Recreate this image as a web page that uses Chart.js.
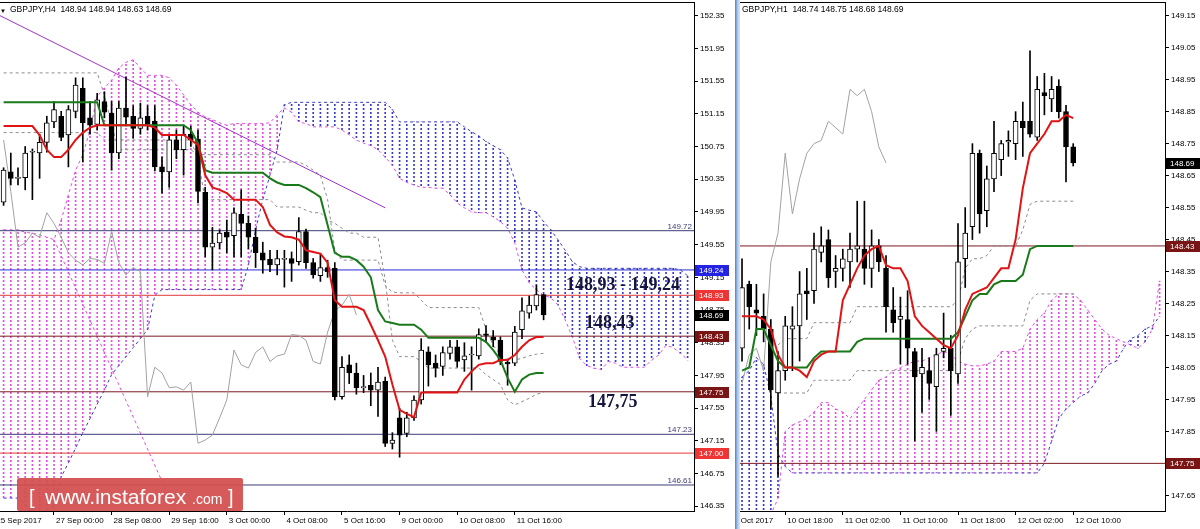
<!DOCTYPE html>
<html lang="en">
<head>
  <meta charset="UTF-8" />
  <title>GBPJPY H4 / H1 – Ichimoku levels</title>
  <script src="https://cdn.jsdelivr.net/npm/chart.js"></script>
  <style>
    body { margin: 0; width: 1200px; height: 529px; position: relative; overflow: hidden; background: #fff;
           font-family: "Liberation Sans", Arial, sans-serif; }
    canvas { position: absolute; top: 0; }
    #h4 { left: 0; }
    #h1 { left: 740px; }
    #split { position: absolute; left: 735px; top: 0; width: 5px; height: 529px;
             background: linear-gradient(to right, #4f7fc0, #a9c6ea 50%, #dce8f6); }
    .hdr { position: absolute; top: 4px; font-size: 8.5px; line-height: 10px; white-space: nowrap; color: #000; }
    .note { position: absolute; font: bold 18px/18px "Liberation Serif", "Times New Roman", serif; color: #15153d; white-space: nowrap; }
    #logo { position: absolute; left: 17px; top: 478px; width: 226px; height: 33px; background: rgba(212, 78, 78, 0.93);
            border-radius: 2px; color: #fff; white-space: nowrap; }
    #logo span { position: absolute; line-height: 24px; }
  </style>
</head>
<body>
  <canvas id="h4" width="736" height="529"></canvas>
  <div id="split"></div>
  <canvas id="h1" width="460" height="529"></canvas>

  <!-- headers -->
  <div class="hdr" style="left:0;top:6px;font-size:6px">▼</div>
  <div class="hdr" style="left:10px">GBPJPY,H4&nbsp; 148.94 148.94 148.63 148.69</div>
  <div class="hdr" style="left:742px">GBPJPY,H1&nbsp; 148.74 148.75 148.68 148.69</div>

  <!-- level notes -->
  <div class="note" style="left:566px;top:275px">148,93 - 149,24</div>
  <div class="note" style="left:585px;top:313px">148,43</div>
  <div class="note" style="left:588px;top:392px">147,75</div>

  <div id="logo">
    <span style="left:12px;top:7px;font-size:20px">[</span>
    <span style="left:28px;top:7px;font-size:21px">www.instaforex</span>
    <span style="left:175px;top:9px;font-size:14px">.com</span>
    <span style="left:211px;top:7px;font-size:20px">]</span>
  </div>

  <script>
    // ---------- H4 (left) ----------
    const h4Open = [150.07,150.44,150.36,150.37,150.68,150.67,150.80,151.05,151.12,150.89,
      151.18,151.46,151.10,151.02,151.30,151.16,150.67,151.22,151.12,150.97,
      151.12,151.06,150.50,150.44,150.83,150.71,150.90,150.84,150.19,149.52,
      149.57,149.70,149.66,149.92,149.81,149.64,149.45,149.37,149.30,149.37,
      149.38,149.34,149.71,149.33,149.17,149.27,149.26,147.69,148.08,147.98,
      147.80,147.83,147.77,147.88,147.12,147.43,147.24,147.43,147.65,148.24,
      148.10,148.06,148.22,148.30,148.14,148.20,148.19,148.46,148.42,148.38,
      148.11,148.10,148.51,148.71,148.80,148.94];
    const h4High = [150.49,150.67,150.49,150.75,150.72,150.90,151.12,151.30,151.18,151.25,
      151.59,151.59,151.30,151.40,151.42,151.30,151.30,151.60,151.25,151.28,
      151.25,151.25,150.62,150.90,150.95,151.00,151.00,150.95,150.25,149.76,
      149.73,149.85,150.00,150.22,149.90,149.75,149.58,149.48,149.48,149.48,
      149.46,149.88,149.74,149.38,149.44,149.36,149.33,148.18,148.20,148.10,
      147.95,147.98,148.05,147.93,147.25,147.55,147.50,147.70,148.40,148.30,
      148.20,148.30,148.38,148.38,148.35,148.30,148.52,148.56,148.50,148.42,
      148.15,148.55,148.90,148.92,149.05,148.94];
    const h4Low = [150.03,150.28,150.28,150.22,150.10,150.36,150.68,150.98,150.82,150.50,
      151.10,150.56,150.90,150.95,151.10,150.46,150.60,151.00,150.85,150.90,
      150.95,150.45,150.18,150.25,150.60,150.40,150.75,150.06,149.40,149.24,
      149.50,149.45,149.40,149.40,149.50,149.27,149.20,149.22,149.18,149.03,
      149.10,149.30,149.26,149.14,149.10,149.15,147.65,147.66,147.85,147.72,
      147.74,147.58,147.45,147.08,147.05,146.95,147.20,147.40,147.60,147.82,
      147.93,147.95,148.15,148.05,148.00,147.77,148.15,148.35,148.30,148.08,
      147.83,148.07,148.40,148.65,148.75,148.63];
    const h4Close = [150.46,150.36,150.37,150.67,150.69,150.80,151.04,151.20,150.86,151.20,
      151.50,151.04,151.01,151.32,151.17,150.67,151.22,151.11,150.97,151.10,
      151.02,150.50,150.44,150.83,150.71,150.90,150.83,150.20,149.52,149.57,
      149.69,149.64,149.94,149.81,149.64,149.45,149.36,149.30,149.38,149.37,
      149.32,149.71,149.33,149.18,149.27,149.22,147.69,148.05,147.98,147.80,
      147.81,147.77,147.87,147.12,147.16,147.22,147.43,147.65,148.26,148.08,
      148.04,148.23,148.30,148.12,148.19,148.21,148.45,148.44,148.38,148.12,
      148.09,148.48,148.74,148.81,148.94,148.69];
    const h4Tenkan = [151.00,151.00,151.00,151.00,151.00,150.89,150.71,150.62,150.62,150.71,
      150.83,150.92,150.98,151.01,151.01,151.01,151.01,151.01,151.01,151.01,
      151.01,150.98,150.89,150.89,150.89,150.89,150.83,150.77,150.40,150.25,
      150.22,150.18,150.10,150.10,150.10,150.10,150.01,149.79,149.70,149.65,
      149.64,149.61,149.48,149.46,149.44,149.33,148.87,148.79,148.79,148.79,
      148.75,148.57,148.38,148.18,147.84,147.53,147.48,147.44,147.74,147.74,
      147.74,147.74,147.74,147.74,147.90,148.00,148.08,148.10,148.10,148.14,
      148.14,148.20,148.30,148.38,148.42,148.42];
    const h4Kijun = [151.29,151.29,151.29,151.29,151.29,151.29,151.29,151.29,151.29,151.29,
      151.29,151.29,151.29,151.29,151.01,151.01,151.01,151.01,151.01,151.01,
      151.01,151.01,151.01,151.01,151.01,151.01,150.95,150.79,150.46,150.43,
      150.43,150.43,150.43,150.43,150.43,150.43,150.43,150.36,150.31,150.28,
      150.28,150.28,150.24,150.19,150.13,149.79,149.45,149.40,149.40,149.36,
      149.28,149.15,148.75,148.61,148.59,148.57,148.57,148.57,148.51,148.41,
      148.41,148.41,148.41,148.41,148.41,148.41,148.41,148.36,148.26,148.14,
      147.92,147.75,147.90,147.96,147.98,147.98];
    const h4Chikou = [150.83,150.20,149.52,149.57,149.69,149.64,149.94,149.81,149.64,149.45,
      149.36,149.30,149.38,149.37,149.32,149.71,149.33,149.18,149.27,149.22,
      147.69,148.05,147.98,147.80,147.81,147.77,147.87,147.12,147.16,147.22,
      147.43,147.65,148.26,148.08,148.04,148.23,148.30,148.12,148.19,148.21,
      148.45,148.44,148.38,148.12,148.09,148.48,148.74,148.81,148.94,148.69];
    const h4SlowUpper = [151.65,151.65,151.65,151.65,151.65,151.65,151.65,151.65,151.65,151.65,
      151.65,151.65,151.65,151.65,151.38,151.01,150.71,150.71,150.71,150.71,
      150.71,150.71,150.71,150.71,150.71,150.71,150.71,150.65,150.65,150.65,
      150.65,150.65,150.65,150.65,150.65,150.65,150.65,150.65,150.56,150.56,
      150.56,150.56,150.52,150.46,150.40,150.10,149.48,149.36,149.36,149.36,
      149.36,149.36,149.36,149.05,148.97,148.96,148.96,148.96,148.87,148.78,
      148.78,148.78,148.78,148.78,148.78,148.78,148.78,148.51,148.32,148.20,
      148.14,148.14,148.16,148.19,148.21,148.22];
    const h4SlowLower = [150.92,150.92,150.92,150.92,150.92,150.92,150.92,150.92,150.92,150.92,
      150.92,150.92,150.92,150.92,150.83,150.83,150.83,150.83,150.83,150.83,
      150.83,150.83,150.83,150.83,150.83,150.83,150.83,150.59,150.10,150.10,
      150.10,150.10,150.10,150.10,150.10,150.10,150.10,150.10,150.01,150.01,
      150.01,150.01,149.97,149.94,149.94,149.85,149.81,149.75,149.69,149.69,
      149.64,149.64,149.64,149.12,148.38,148.18,148.18,148.18,148.12,148.04,
      148.04,148.04,148.04,148.04,148.04,148.04,148.04,147.96,147.90,147.84,
      147.65,147.59,147.63,147.67,147.72,147.74];
    // leading spans, shifted forward (bars 0..95)
    const h4SpanA = [149.73,149.73,149.73,149.70,149.69,149.67,149.64,149.61,149.85,150.16,
      150.46,150.65,150.95,151.36,151.47,151.56,151.71,151.78,151.81,151.71,
      151.62,151.62,151.62,151.59,151.50,151.38,151.26,151.17,151.11,151.08,
      151.04,151.01,151.03,151.03,151.03,151.03,151.03,151.04,151.14,151.22,
      151.17,151.05,151.03,150.99,150.99,150.99,150.99,150.95,150.89,150.83,
      150.79,150.76,150.71,150.62,150.52,150.36,150.31,150.28,150.25,150.25,
      150.24,150.24,150.16,150.06,150.00,149.95,149.94,149.94,149.89,149.83,
      149.75,149.57,149.24,149.08,149.00,148.93,148.90,148.81,148.63,148.42,
      148.16,148.07,148.04,148.02,148.12,148.10,148.05,148.05,148.05,148.05,
      148.14,148.20,148.32,148.29,148.22,148.14];
    const h4SpanB = [146.45,146.45,146.45,146.37,146.24,146.18,146.18,146.37,146.71,146.88,
      147.06,147.25,147.42,147.60,147.77,147.96,148.07,148.18,148.29,148.40,
      148.51,148.93,149.00,149.00,149.00,149.00,149.00,149.00,149.00,149.00,
      149.00,149.00,149.00,149.00,149.30,149.73,150.10,150.40,150.71,151.26,
      151.29,151.29,151.29,151.29,151.29,151.29,151.29,151.29,151.29,151.29,
      151.29,151.29,151.29,151.29,151.20,151.05,151.05,151.05,151.05,151.05,
      151.05,151.05,151.05,151.05,150.99,150.93,150.88,150.81,150.76,150.71,
      150.61,150.34,150.00,149.97,149.95,149.83,149.73,149.61,149.48,149.34,
      149.28,149.26,149.26,149.26,149.26,149.26,149.26,149.26,149.26,149.26,
      149.26,149.26,149.26,149.26,149.24,149.17];
    const h4DiagX = [7, 24], h4DiagY = [149.61, 146.26];
    const h4TrendX = [-0.5, 53], h4TrendY = [152.35, 150.00];
    const h4Levels = [149.72, 149.24, 148.93, 148.43, 147.75, 147.23, 147.00, 146.61];
    const h4LevelColors = ['#3c3c78', '#2b2bd8', '#e03a3a', '#7d1a22', '#7d1a22', '#3c3c78', '#e03a3a', '#3c3c78'];
    const h4YTicks = [152.35, 151.95, 151.55, 151.15, 150.75, 150.35, 149.95, 149.55,
      149.15, 148.75, 148.35, 147.95, 147.55, 147.15, 146.75, 146.35];
    const h4TimeIdx = [-1.3, 7, 15, 23, 31, 39, 47, 55, 63, 71];
    const h4TimeLabels = ['25 Sep 2017', '27 Sep 00:00', '28 Sep 08:00', '29 Sep 16:00', '3 Oct 00:00',
      '4 Oct 08:00', '5 Oct 16:00', '9 Oct 00:00', '10 Oct 08:00', '11 Oct 16:00'];

    // ---------- H1 (right) ----------
    const h1Open = [148.11,148.31,148.23,148.21,148.17,147.97,148.04,148.17,148.18,148.29,
      148.29,148.41,148.45,148.35,148.36,148.38,148.42,148.42,148.36,148.43,
      148.36,148.23,148.20,148.20,148.10,148.03,148.04,147.99,148.10,148.11,
      148.03,148.39,148.49,148.72,148.54,148.64,148.70,148.755,148.75,148.82,
      148.82,148.77,148.91,148.89,148.93,148.85,148.74];
    const h1High = [148.39,148.32,148.31,148.28,148.20,148.10,148.21,148.24,148.35,148.36,
      148.47,148.49,148.48,148.40,148.42,148.47,148.57,148.57,148.48,148.45,
      148.40,148.30,148.27,148.29,148.11,148.11,148.08,148.11,148.22,148.15,
      148.50,148.55,148.75,148.73,148.68,148.82,148.76,148.79,148.85,148.88,
      149.04,148.96,148.97,148.96,148.95,148.87,148.75];
    const h1Low = [148.07,148.17,148.15,148.13,147.92,147.71,148.01,148.04,148.07,148.20,
      148.25,148.38,148.30,148.30,148.32,148.30,148.38,148.31,148.30,148.35,
      148.16,148.16,148.06,148.06,147.82,147.91,147.95,147.85,148.08,147.90,
      148.00,148.30,148.45,148.47,148.49,148.60,148.65,148.71,148.70,148.71,
      148.77,148.76,148.84,148.85,148.83,148.63,148.68];
    const h1Close = [148.30,148.24,148.22,148.17,147.98,148.04,148.18,148.18,148.28,148.28,
      148.42,148.43,148.33,148.36,148.39,148.42,148.43,148.36,148.43,148.38,
      148.24,148.19,148.21,148.11,148.02,148.05,148.00,148.09,148.11,148.04,
      148.38,148.47,148.72,148.53,148.64,148.72,148.75,148.76,148.82,148.80,
      148.78,148.92,148.90,148.92,148.85,148.74,148.69];
    const h1Tenkan = [148.21,148.21,148.21,148.20,148.17,148.09,148.05,148.05,148.04,148.02,
      148.07,148.09,148.10,148.10,148.26,148.31,148.36,148.40,148.42,148.43,
      148.37,148.36,148.36,148.32,148.21,148.18,148.16,148.14,148.12,148.11,
      148.15,148.23,148.28,148.29,148.30,148.33,148.36,148.36,148.45,148.61,
      148.72,148.75,148.78,148.82,148.82,148.84,148.83];
    const h1Kijun = [148.04,148.05,148.17,148.17,148.12,148.07,148.05,148.05,148.05,148.05,
      148.08,148.10,148.10,148.10,148.10,148.10,148.13,148.14,148.14,148.14,
      148.14,148.14,148.14,148.14,148.14,148.14,148.14,148.14,148.14,148.14,
      148.16,148.21,148.26,148.28,148.28,148.31,148.32,148.32,148.32,148.34,
      148.42,148.43,148.43,148.43,148.43,148.43,148.43];
    const h1Chikou = [148.00,148.09,148.11,148.04,148.38,148.47,148.72,148.53,148.64,148.72,
      148.75,148.76,148.82,148.80,148.78,148.92,148.90,148.92,148.85,148.74,148.69];
    const h1SlowUpper = [null,null,null,null,null,148.12,148.14,148.14,148.14,148.14,
      148.19,148.19,148.19,148.19,148.19,148.19,148.24,148.24,148.24,148.24,
      148.24,148.24,148.24,148.24,148.24,148.24,148.24,148.24,148.24,148.24,
      148.26,148.36,148.39,148.39,148.40,148.43,148.43,148.43,148.43,148.48,
      148.56,148.57,148.57,148.57,148.57,148.57,148.57];
    const h1SlowLower = [null,null,null,null,null,147.97,147.97,147.97,147.97,147.97,
      148.01,148.01,148.01,148.01,148.01,148.01,148.04,148.04,148.04,148.04,
      148.04,148.04,148.04,148.04,148.04,148.04,148.04,148.04,148.04,148.04,
      148.07,148.14,148.17,148.18,148.18,148.18,148.18,148.18,148.18,148.18,
      148.26,148.28,148.28,148.28,148.28,148.28,148.28];
    const h1SpanA = [147.57,147.57,147.57,147.57,147.59,147.64,147.85,147.87,147.88,147.89,
      147.91,147.94,147.94,147.92,147.91,147.89,147.92,147.95,147.98,148.01,
      148.02,148.04,148.05,148.06,148.07,148.07,148.08,148.09,148.10,148.09,
      148.07,148.06,148.055,148.055,148.06,148.07,148.10,148.10,148.10,148.11,
      148.17,148.20,148.22,148.26,148.28,148.28,148.28,148.26,148.23,148.20,
      148.17,148.15,148.14,148.13,148.12,148.11,148.13,148.17,148.32];
    const h1SpanB = [148.02,148.04,148.08,148.06,147.96,147.78,147.74,147.72,147.72,147.72,
      147.72,147.72,147.72,147.72,147.72,147.72,147.72,147.72,147.72,147.72,
      147.72,147.72,147.72,147.72,147.72,147.72,147.72,147.72,147.72,147.72,
      147.72,147.72,147.72,147.72,147.72,147.72,147.72,147.72,147.72,147.72,
      147.72,147.72,147.75,147.82,147.89,147.92,147.94,147.96,147.97,148.00,
      148.04,148.06,148.07,148.11,148.14,148.15,148.17,148.18,148.21];
    const h1Levels = [148.43, 147.75];
    const h1LevelColors = ['#7d1a22', '#7d1a22'];
    const h1YTicks = [149.15, 149.05, 148.95, 148.85, 148.75, 148.65, 148.55, 148.45,
      148.35, 148.25, 148.15, 148.05, 147.95, 147.85, 147.75, 147.65];
    const h1TimeIdx = [-2, 6, 14, 22, 30, 38, 46];
    const h1TimeLabels = ['10 Oct 2017', '10 Oct 18:00', '11 Oct 02:00', '11 Oct 10:00',
      '11 Oct 18:00', '12 Oct 02:00', '12 Oct 10:00'];

    Chart.defaults.font.family = '"Liberation Sans", Arial, sans-serif';
    Chart.defaults.font.size = 8;
    Chart.defaults.color = '#000';

    // vertical dotted columns, like the terminal's cloud histogram
    function dots(color) {
      const c = document.createElement('canvas');
      c.width = 1; c.height = 4;
      const g = c.getContext('2d');
      g.fillStyle = color;
      g.fillRect(0, 0, 1, 2);
      return g.createPattern(c, 'repeat');
    }

    function line(vals, color, extra) {
      return Object.assign({
        type: 'line', data: vals.map((v, i) => ({x: i, y: v})),
        borderColor: color, borderWidth: 1, pointRadius: 0, tension: 0, fill: false, spanGaps: false
      }, extra);
    }

    function segment(xs, ys, color, extra) {
      return Object.assign({
        type: 'line', data: xs.map((x, i) => ({x, y: ys[i]})),
        borderColor: color, borderWidth: 1, pointRadius: 0, fill: false
      }, extra);
    }

    function levels(vals, colors, xMin, xMax) {
      return vals.map((v, i) => segment([xMin, xMax], [v, v], colors[i], {order: 6}));
    }

    function candles(o, h, l, c) {
      const wick = [], up = [], down = [];
      o.forEach((v, i) => {
        wick.push({x: i, y: [l[i], h[i]]});
        const body = {x: i, y: [Math.min(v, c[i]), Math.max(v, c[i])]};
        (c[i] >= v ? up : down).push(body);
      });
      const body = {type: 'bar', barThickness: 5, minBarLength: 1, borderWidth: 1, borderColor: '#000',
                    borderSkipped: false, grouped: false, order: 2};
      return [
        {type: 'bar', data: wick, backgroundColor: '#000', barThickness: 1, grouped: false, order: 3},
        Object.assign({data: up, backgroundColor: '#fff'}, body),
        Object.assign({data: down, backgroundColor: '#000'}, body)
      ];
    }

    function cloud(a, b, colA, colB) {
      const pa = [], pb = [];
      a.forEach((v, i) => {
        if (v >= b[i]) pa.push({x: i, y: [b[i], v]});
        else pb.push({x: i, y: [v, b[i]]});
      });
      const base = {type: 'bar', barThickness: 1, grouped: false, order: 8};
      return [
        Object.assign({data: pa, backgroundColor: dots(colA)}, base),
        Object.assign({data: pb, backgroundColor: dots(colB)}, base)
      ];
    }

    // price tags on the axis, small level captions, top frame line
    function tagsPlugin(tags, notes) {
      return {
        id: 'tags',
        afterDraw(chart) {
          const {ctx, chartArea: a, scales: {y}} = chart;
          ctx.save();
          ctx.fillStyle = '#000';
          ctx.fillRect(a.left, a.top, a.right - a.left + 1, 1);
          ctx.font = '8px "Liberation Sans", Arial, sans-serif';
          ctx.textBaseline = 'middle';
          tags.forEach(t => {
            const py = Math.round(y.getPixelForValue(t.v));
            ctx.fillStyle = t.bg;
            ctx.fillRect(a.right + 1, py - 5, 34, 11);
            ctx.fillStyle = '#fff';
            ctx.fillText(t.v.toFixed(2), a.right + 5, py + 0.5);
          });
          ctx.textAlign = 'right';
          ctx.textBaseline = 'alphabetic';
          ctx.fillStyle = '#3c3c78';
          notes.forEach(v => ctx.fillText(v.toFixed(2), a.right - 2, y.getPixelForValue(v) - 2));
          ctx.restore();
        }
      };
    }

    function panel(id, p) {
      return new Chart(document.getElementById(id), {
        type: 'bar',
        data: {datasets: p.datasets},
        options: {
          responsive: false, animation: false, devicePixelRatio: 1, events: [],
          layout: {padding: {top: 2, left: 0, right: 0, bottom: 0}, autoPadding: false},
          plugins: {legend: {display: false}, tooltip: {enabled: false}},
          scales: {
            x: {
              type: 'linear', offset: false, min: p.xMin, max: p.xMax,
              grid: {offset: false, drawOnChartArea: false, tickLength: 4, color: '#000'},
              border: {color: '#000'},
              ticks: {autoSkip: false, maxRotation: 0, minRotation: 0, align: 'start', labelOffset: 2, padding: 1,
                      callback: v => p.timeLabels[p.timeIdx.indexOf(v)]},
              afterBuildTicks: s => { s.ticks = p.timeIdx.map(v => ({value: v})); },
              afterFit: s => { s.height = 18; s.paddingLeft = 0; s.paddingRight = 0; }
            },
            y: {
              type: 'linear', position: 'right', min: p.yMin, max: p.yMax, beginAtZero: false,
              grid: {drawOnChartArea: false, tickLength: 4, color: '#000'},
              border: {color: '#000'},
              ticks: {padding: 2, callback: v => v.toFixed(2)},
              afterBuildTicks: s => { s.ticks = p.yTicks.map(v => ({value: v})); },
              afterFit: s => { s.width = p.axisW; s.paddingTop = 0; s.paddingBottom = 0; }
            }
          }
        },
        plugins: [tagsPlugin(p.tags, p.notes)]
      });
    }

    const PINK = '#e24ee2', BLUE = '#3a3ac8', GREY = '#8c8c8c';
    const dash = [3, 3];

    // left: H4
    const h4XMin = -0.5, h4XMax = 95.89;
    panel('h4', {
      xMin: h4XMin, xMax: h4XMax, yMin: 146.292, yMax: 152.517, axisW: 42,
      yTicks: h4YTicks, timeIdx: h4TimeIdx, timeLabels: h4TimeLabels,
      tags: [{v: 149.24, bg: '#2323e6'}, {v: 148.93, bg: '#ef3434'}, {v: 148.69, bg: '#000'},
             {v: 148.43, bg: '#7a1515'}, {v: 147.75, bg: '#7a1515'}, {v: 147.00, bg: '#ef3434'}],
      notes: [149.72, 147.23, 146.61],
      datasets: [
        line(h4Tenkan, '#e01414', {borderWidth: 2, order: 0}),
        line(h4Kijun, '#1a7a1a', {borderWidth: 2, order: 1}),
        ...candles(h4Open, h4High, h4Low, h4Close),
        line(h4Chikou, '#a2a2a2', {order: 4}),
        segment(h4TrendX, h4TrendY, '#a032c8', {order: 4}),
        line(h4SlowUpper, GREY, {borderDash: dash, order: 5}),
        line(h4SlowLower, GREY, {borderDash: dash, order: 5}),
        ...levels(h4Levels, h4LevelColors, h4XMin, h4XMax),
        line(h4SpanA, PINK, {borderDash: dash, order: 7}),
        line(h4SpanB, BLUE, {borderDash: dash, order: 7}),
        segment(h4DiagX, h4DiagY, PINK, {borderDash: dash, order: 7}),
        ...cloud(h4SpanA, h4SpanB, PINK, BLUE)
      ]
    });

    // right: H1
    const h1XMin = -0.28, h1XMax = 58.75;
    panel('h1', {
      xMin: h1XMin, xMax: h1XMax, yMin: 147.601, yMax: 149.193, axisW: 35,
      yTicks: h1YTicks, timeIdx: h1TimeIdx, timeLabels: h1TimeLabels,
      tags: [{v: 148.69, bg: '#000'}, {v: 148.43, bg: '#7a1515'}, {v: 147.75, bg: '#7a1515'}],
      notes: [],
      datasets: [
        line(h1Tenkan, '#e01414', {borderWidth: 2, order: 0}),
        line(h1Kijun, '#1a7a1a', {borderWidth: 2, order: 1}),
        ...candles(h1Open, h1High, h1Low, h1Close),
        line(h1Chikou, '#a2a2a2', {order: 4}),
        line(h1SlowUpper, GREY, {borderDash: dash, order: 5}),
        line(h1SlowLower, GREY, {borderDash: dash, order: 5}),
        ...levels(h1Levels, h1LevelColors, h1XMin, h1XMax),
        line(h1SpanA, PINK, {borderDash: dash, order: 7}),
        line(h1SpanB, BLUE, {borderDash: dash, order: 7}),
        ...cloud(h1SpanA, h1SpanB, PINK, BLUE)
      ]
    });
  </script>
</body>
</html>
